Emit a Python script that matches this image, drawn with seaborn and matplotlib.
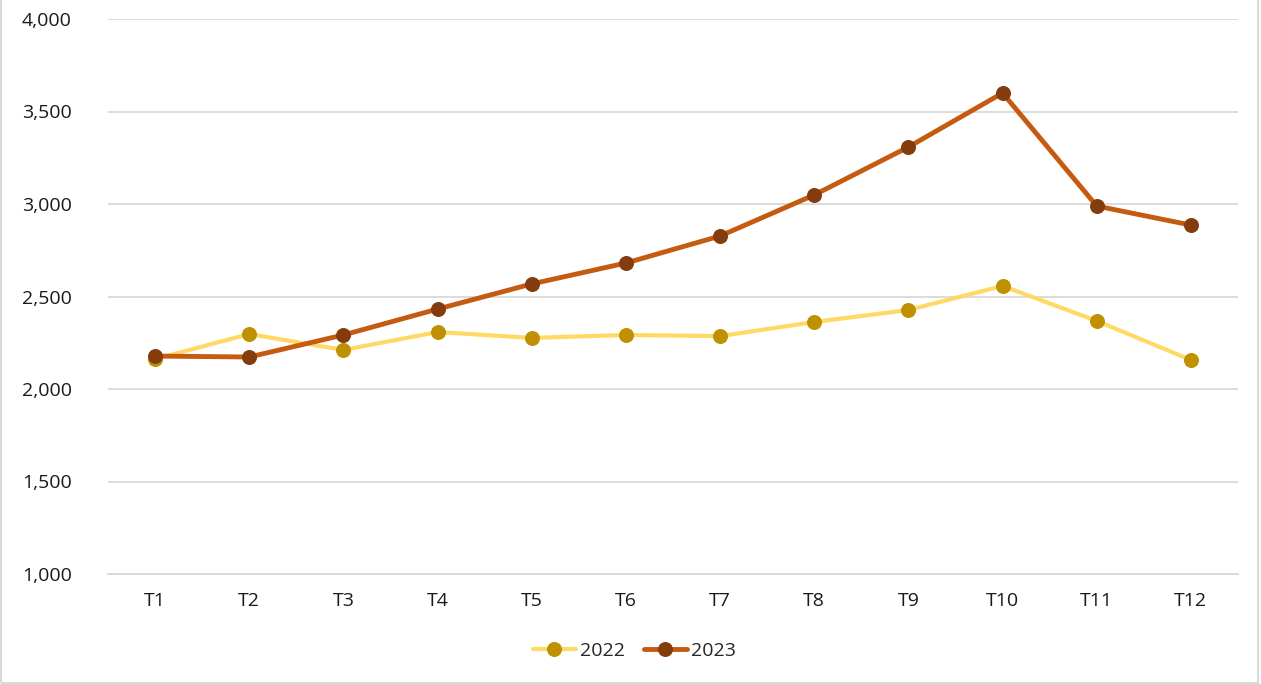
import matplotlib.pyplot as plt
import seaborn as sns
import pandas as pd

# data
months = ['T1', 'T2', 'T3', 'T4', 'T5', 'T6', 'T7', 'T8', 'T9', 'T10', 'T11', 'T12']
v2022 = [2162, 2297, 2211, 2308, 2276, 2292, 2286, 2362, 2427, 2557, 2368, 2157]
v2023 = [2178, 2173, 2292, 2432, 2568, 2681, 2827, 3049, 3308, 3600, 2989, 2886]

df = pd.DataFrame({'month': months, '2022': v2022, '2023': v2023})

sns.set_style('white')
plt.rcParams['font.family'] = ['Open Sans', 'DejaVu Sans']

fig = plt.figure(figsize=(12.61, 6.84), dpi=100)
ax = fig.add_axes([108 / 1261, 1 - 574 / 684, 1130 / 1261, 555 / 684])

# light frame around the whole picture
fig.patches.append(plt.Rectangle((0.001, 0.001), 0.997, 1.2, transform=fig.transFigure,
                                 fill=False, edgecolor='#d9d9d9', linewidth=1.5))

sns.lineplot(data=df, x='month', y='2022', ax=ax, color='#FFD966', linewidth=3,
             marker='o', markersize=10, markerfacecolor='#BF9000',
             markeredgecolor='#BF9000', label='2022', sort=False)
sns.lineplot(data=df, x='month', y='2023', ax=ax, color='#C55A11', linewidth=3.5,
             marker='o', markersize=10, markerfacecolor='#843C0C',
             markeredgecolor='#843C0C', label='2023', sort=False)

ax.set_xlim(-0.5, 11.5)
ax.set_ylim(1000, 4000)
ax.set_yticks(range(1000, 4001, 500))
ax.set_yticklabels([f'{v:,}' for v in range(1000, 4001, 500)])
ax.yaxis.grid(True, color='#d9d9d9', linewidth=1.3)
ax.set_axisbelow(True)
for s in ['top', 'right', 'left']:
    ax.spines[s].set_visible(False)
ax.spines['bottom'].set_color('#d9d9d9')
ax.spines['bottom'].set_linewidth(1.3)
ax.tick_params(axis='y', length=0, pad=26, labelsize=14, labelcolor='#1a1a1a')
ax.tick_params(axis='x', length=0, pad=13, labelsize=14, labelcolor='#1a1a1a')
ax.set_xlabel('')
ax.set_ylabel('')

ax.legend(loc='center', bbox_to_anchor=(0.503, 0.048), bbox_transform=fig.transFigure,
          ncol=2, frameon=False, fontsize=14, handlelength=2.2, handletextpad=0.2,
          columnspacing=1.0)

fig.savefig('out.png', dpi=100)
